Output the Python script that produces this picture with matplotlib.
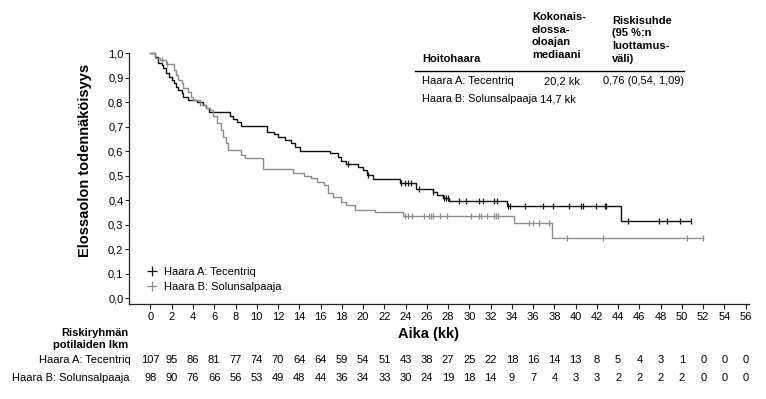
import matplotlib
matplotlib.use("Agg")
import matplotlib.pyplot as plt
from matplotlib.lines import Line2D
import matplotlib.transforms as mtransforms

plt.rcParams['font.family'] = ['Liberation Sans', 'DejaVu Sans']

# ---- data ----
a_times = [0, 0.4, 0.7, 1.1, 1.2, 1.5, 1.7, 2.0, 2.2, 2.4, 2.6, 3.0, 3.1, 3.5, 4.4, 4.9, 5.2, 5.5,
           7.5, 7.8, 8.1, 8.5, 11.0, 11.6, 12.0, 12.7, 13.2, 13.6, 14.1, 16.9, 17.6, 17.9, 18.4,
           19.5, 20.0, 20.4, 20.9, 23.5, 25.0, 26.6, 27.0, 27.5, 28.1, 33.5, 44.3, 50.9]
a_surv = [1.0, 0.984, 0.961, 0.953, 0.940, 0.920, 0.904, 0.891, 0.879, 0.863, 0.851, 0.839, 0.822,
          0.810, 0.802, 0.790, 0.778, 0.760, 0.744, 0.732, 0.720, 0.703, 0.679, 0.671, 0.659, 0.646,
          0.634, 0.618, 0.601, 0.593, 0.576, 0.560, 0.548, 0.536, 0.524, 0.503, 0.487, 0.471, 0.446,
          0.433, 0.421, 0.409, 0.397, 0.376, 0.315, 0.315]
a_cens = [18.6, 20.5, 23.6, 23.9, 24.2, 24.5, 25.3, 26.6, 27.6, 27.8, 28.0, 29.0, 29.7, 30.9, 31.3,
          32.3, 32.6, 33.6, 33.8, 35.2, 36.9, 37.9, 39.4, 40.5, 40.7, 41.9, 42.8, 42.9, 44.9, 47.8,
          48.6, 49.8, 50.9]

b_times = [0, 0.4, 0.9, 1.5, 2.2, 2.4, 2.6, 3.0, 3.1, 3.5, 3.8, 4.0, 4.7, 5.2, 5.6, 5.9, 6.3, 6.6,
           6.8, 7.1, 7.3, 8.5, 8.9, 10.6, 13.4, 14.4, 15.1, 15.7, 16.3, 16.7, 17.2, 17.9, 18.4, 19.2,
           21.1, 23.8, 34.2, 37.8, 52.0]
b_surv = [1.0, 0.982, 0.974, 0.957, 0.933, 0.913, 0.891, 0.879, 0.859, 0.843, 0.822, 0.810, 0.790,
          0.778, 0.768, 0.744, 0.716, 0.687, 0.659, 0.634, 0.605, 0.584, 0.572, 0.528, 0.511, 0.499,
          0.491, 0.475, 0.463, 0.429, 0.413, 0.392, 0.380, 0.360, 0.352, 0.336, 0.307, 0.245, 0.245]
b_cens = [1.1, 1.6, 23.9, 24.2, 24.6, 25.7, 26.2, 26.4, 26.6, 27.2, 27.9, 30.2, 30.9, 31.1, 31.7,
          32.3, 32.5, 32.7, 35.6, 36.0, 36.6, 37.5, 39.2, 42.6, 50.5, 52.0]

risk_times = list(range(0, 57, 2))
risk_a = [107, 95, 86, 81, 77, 74, 70, 64, 64, 59, 54, 51, 43, 38, 27, 25, 22, 18, 16, 14, 13, 8, 5,
          4, 3, 1, 0, 0, 0]
risk_b = [98, 90, 76, 66, 56, 53, 49, 48, 44, 36, 34, 33, 30, 24, 19, 18, 14, 9, 7, 4, 3, 3, 2, 2,
          2, 2, 0, 0, 0]

label_a = "Haara A: Tecentriq"
label_b = "Haara B: Solunsalpaaja"
yticks = [i / 10 for i in range(11)]
yticklabels = [f"{v:.1f}".replace(".", ",") for v in yticks]

col_a = "#111111"
col_b = "#8c8c8c"

W, H = 766, 399
fig = plt.figure(figsize=(W / 100, H / 100), dpi=100)

def fx(px):
    return px / W

def fy(py):
    return 1 - py / H

ax = fig.add_axes([fx(129), fy(304), 620 / W, 251 / H])
ax.set_xlim(-2.02, 56.31)
ax.set_ylim(-0.0245, 1.002)

def surv_at(times, surv, t):
    s = surv[0]
    for ti, si in zip(times, surv):
        if ti <= t:
            s = si
    return s

for times, surv, cens, col in [(a_times, a_surv, a_cens, col_a), (b_times, b_surv, b_cens, col_b)]:
    ax.step(times, surv, where='post', color=col, lw=1.0, clip_on=False)
    ax.plot(cens, [surv_at(times, surv, c) for c in cens], linestyle='none', marker='|',
            markersize=5, markeredgewidth=0.9, color=col, clip_on=False)

for s in ['top', 'right']:
    ax.spines[s].set_visible(False)
for s in ['left', 'bottom']:
    ax.spines[s].set_linewidth(0.9)
    ax.spines[s].set_color('#222222')

ax.set_xticks(risk_times)
ax.set_xticklabels([str(t) for t in risk_times], fontsize=8)
ax.set_yticks(yticks)
ax.set_yticklabels(yticklabels, fontsize=8)
ax.tick_params(axis='x', length=3.6, width=0.8, pad=2.5, colors='#222222', labelcolor='black')
ax.tick_params(axis='y', length=3, width=0.8, pad=1, colors='#222222', labelcolor='black')

# legend
handles = [Line2D([], [], color=col_a, marker='+', linestyle='none', markersize=7, markeredgewidth=0.9),
           Line2D([], [], color=col_b, marker='+', linestyle='none', markersize=7, markeredgewidth=0.9)]
ax.legend(handles, [label_a, label_b], loc='upper left', bbox_to_anchor=(fx(146.5), fy(267)),
          bbox_transform=fig.transFigure, frameon=False, fontsize=8, handlelength=1.0,
          handletextpad=0.6, labelspacing=0.45, borderpad=0, borderaxespad=0)

# axis labels
fig.text(fx(85), fy(160), "Elossaolon todennäköisyys", rotation=90, ha='center', va='center',
         fontsize=10.5, fontweight='bold')
fig.text(fx(428), fy(334), "Aika (kk)", ha='center', va='center', fontsize=10.5, fontweight='bold')

# risk table
trans = mtransforms.blended_transform_factory(ax.transData, fig.transFigure)
fig.text(fx(128), fy(333), "Riskiryhmän", ha='right', va='center', fontsize=8, fontweight='bold')
fig.text(fx(128), fy(345), "potilaiden lkm", ha='right', va='center', fontsize=8, fontweight='bold')
fig.text(fx(131), fy(360), label_a, ha='right', va='center', fontsize=8)
fig.text(fx(130), fy(378), label_b, ha='right', va='center', fontsize=8)
for t, na, nb in zip(risk_times, risk_a, risk_b):
    ax.text(t, fy(360), str(na), transform=trans, ha='center', va='center', fontsize=8, clip_on=False)
    ax.text(t, fy(378), str(nb), transform=trans, ha='center', va='center', fontsize=8, clip_on=False)

# summary table (top right)
fig.text(fx(422), fy(59), "Hoitohaara", ha='left', va='center', fontsize=8, fontweight='bold')
for i, line in enumerate(["Kokonais-", "elossa-", "oloajan", "mediaani"]):
    fig.text(fx(532), fy(17 + i * 12.7), line, ha='left', va='center', fontsize=8, fontweight='bold')
for i, line in enumerate(["Riskisuhde", "(95 %:n", "luottamus-", "väli)"]):
    fig.text(fx(612), fy(21 + i * 12.5), line, ha='left', va='center', fontsize=8, fontweight='bold')
fig.add_artist(Line2D([fx(415), fx(684)], [fy(71), fy(71)], color='black', lw=1.0))
fig.text(fx(422), fy(81), label_a, ha='left', va='center', fontsize=8)
fig.text(fx(544), fy(81), "20,2 kk", ha='left', va='center', fontsize=8)
fig.text(fx(603), fy(81), "0,76 (0,54, 1,09)", ha='left', va='center', fontsize=8)
fig.text(fx(422), fy(99), label_b, ha='left', va='center', fontsize=7.8)
fig.text(fx(540), fy(99), "14,7 kk", ha='left', va='center', fontsize=8)

fig.savefig("out.png", dpi=100)
